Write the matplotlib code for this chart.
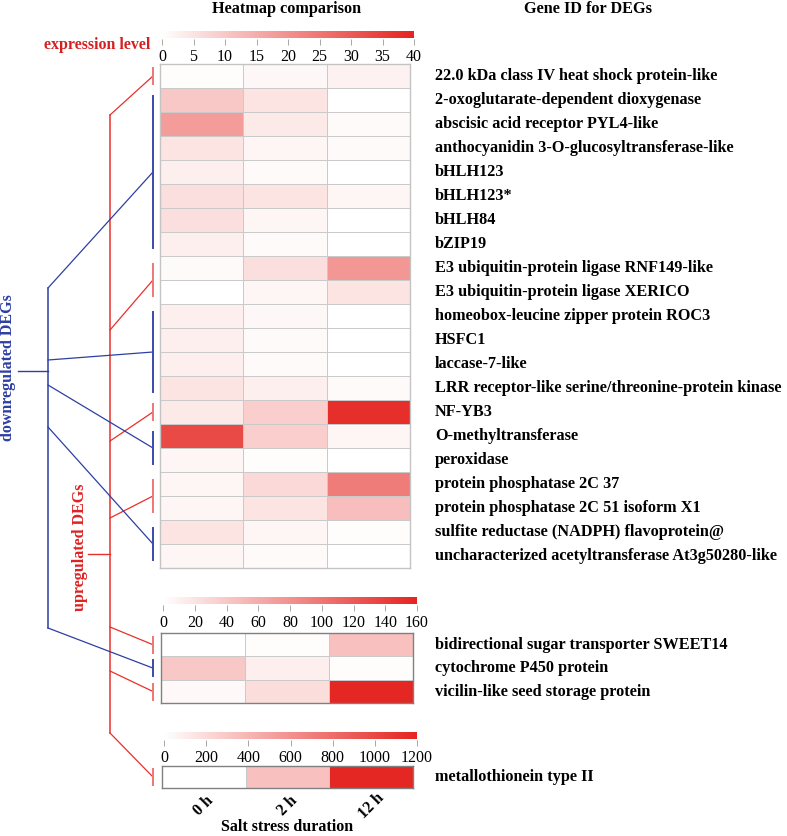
import numpy as np
import matplotlib
matplotlib.use("Agg")
import matplotlib.pyplot as plt
from matplotlib.colors import LinearSegmentedColormap

W, H = 787, 836

# ---- data ----
times = ["0 h", "2 h", "12 h"]

top_genes = [
    "22.0 kDa class IV heat shock protein-like",
    "2-oxoglutarate-dependent dioxygenase",
    "abscisic acid receptor PYL4-like",
    "anthocyanidin 3-O-glucosyltransferase-like",
    "bHLH123",
    "bHLH123*",
    "bHLH84",
    "bZIP19",
    "E3 ubiquitin-protein ligase RNF149-like",
    "E3 ubiquitin-protein ligase XERICO",
    "homeobox-leucine zipper protein ROC3",
    "HSFC1",
    "laccase-7-like",
    "LRR receptor-like serine/threonine-protein kinase",
    "NF-YB3",
    "O-methyltransferase",
    "peroxidase",
    "protein phosphatase 2C 37",
    "protein phosphatase 2C 51 isoform X1",
    "sulfite reductase (NADPH) flavoprotein@",
    "uncharacterized acetyltransferase At3g50280-like",
]
top_0h = [0.5, 10, 18, 5, 3, 6, 6, 3, 1, 0, 3, 3, 3, 5, 4, 33, 2, 2, 2, 5, 2]
top_2h = [1.5, 5, 4, 2, 1, 5, 2, 1, 6, 2, 1.5, 1, 1, 3, 9, 9, 0.5, 7, 5, 2, 1]
top_12h = [2.5, 0, 1, 1, 0, 2, 0, 0, 19, 5, 0, 0, 0, 1, 38, 2, 0, 24, 12, 0.5, 0]
top_ticks = [0, 5, 10, 15, 20, 25, 30, 35, 40]

mid_genes = [
    "bidirectional sugar transporter SWEET14",
    "cytochrome P450 protein",
    "vicilin-like seed storage protein",
]
mid_0h = [0, 40, 5]
mid_2h = [2, 12, 25]
mid_12h = [45, 3, 158]
mid_ticks = [0, 20, 40, 60, 80, 100, 120, 140, 160]

bot_genes = ["metallothionein type II"]
bot_0h = [0]
bot_2h = [340]
bot_12h = [1180]
bot_ticks = [0, 200, 400, 600, 800, 1000, 1200]

# tree groups: (y on trunk, panel, first row, last row)
down_groups = [(288, "top", 1, 7), (360, "top", 10, 13), (385, "top", 15, 16),
               (427, "top", 19, 20), (628, "mid", 1, 1)]
up_groups = [(115, "top", 0, 0), (330, "top", 8, 9), (441, "top", 14, 14),
             (518, "top", 17, 18), (627, "mid", 0, 0), (671, "mid", 2, 2),
             (733, "bot", 0, 0)]

RED = "#E52420"
BLUE = "#2E3FA3"
cmap = LinearSegmentedColormap.from_list("wr", ["#FFFFFF", RED])
serif = ["Liberation Serif", "DejaVu Serif"]
plt.rcParams["font.family"] = serif

fig = plt.figure(figsize=(W / 100, H / 100), dpi=100)


def box(x0, y0, x1, y1):
    return [x0 / W, 1 - y1 / H, (x1 - x0) / W, (y1 - y0) / H]


# overlay in pixel coordinates
ov = fig.add_axes([0, 0, 1, 1])
ov.set_xlim(0, W)
ov.set_ylim(H, 0)
ov.axis("off")

# panel geometry (pixels): x0, x1, y0, row height
panels = {
    "top": (160, 410, 64, 24.0),
    "mid": (161, 413, 633, 23.4),
    "bot": (162, 413, 766, 22.0),
}


def heat(name, cols, vmax, ticks, bar_y, edge):
    x0, x1, y0, rh = panels[name]
    vals = np.array(cols).T
    n = vals.shape[0]
    ax = fig.add_axes(box(x0, y0, x1, y0 + n * rh))
    ax.pcolormesh(vals, cmap=cmap, vmin=0, vmax=vmax,
                  edgecolors="#CACACA", linewidth=0.6)
    ax.set_ylim(n, 0)
    ax.set_xticks([])
    ax.set_yticks([])
    for s in ax.spines.values():
        s.set_color(edge)
        s.set_linewidth(1.0)
    # colour bar
    cb = fig.add_axes(box(x0 + 2, bar_y, x1 + 4, bar_y + 14))
    grad = np.linspace(0, vmax, 256).reshape(1, -1)
    cb.imshow(grad, cmap=cmap, vmin=0, vmax=vmax, aspect="auto",
              extent=(0, vmax, 0.0, 0.6), origin="lower")
    cb.set_xlim(0, vmax)
    cb.set_ylim(-0.6, 0.6)
    for s in cb.spines.values():
        s.set_visible(False)
    cb.set_yticks([])
    cb.set_xticks(ticks)
    cb.set_xticklabels([str(t) for t in ticks])
    cb.tick_params(axis="x", direction="in", length=4, width=0.6,
                   color="#999999", labelsize=11.5, pad=3)
    return ax


genes_all = {"top": top_genes, "mid": mid_genes, "bot": bot_genes}
heat("top", [top_0h, top_2h, top_12h], 40, top_ticks, 31, "#C4C4C4")
heat("mid", [mid_0h, mid_2h, mid_12h], 160, mid_ticks, 597, "#808080")
heat("bot", [bot_0h, bot_2h, bot_12h], 1200, bot_ticks, 732, "#808080")

# gene labels
for name, genes in genes_all.items():
    x0, x1, y0, rh = panels[name]
    for i, g in enumerate(genes):
        ov.text(435, y0 + (i + 0.5) * rh, g, fontsize=11.7, fontweight="bold",
                ha="left", va="center")

# x tick labels under bottom panel
bx0, bx1, by0, brh = panels["bot"]
cw = (bx1 - bx0) / 3
for i, t in enumerate(times):
    ov.text(bx0 + (i + 0.5) * cw, 806, t, rotation=45, fontsize=11.5,
            fontweight="bold", ha="center", va="center")
ov.text((bx0 + bx1) / 2, 827, "Salt stress duration", fontsize=11.5,
        fontweight="bold", ha="center", va="center")

# titles
ov.text(287, 9, "Heatmap comparison", fontsize=11.7, fontweight="bold",
        ha="center", va="center")
ov.text(588, 9, "Gene ID for DEGs", fontsize=11.7, fontweight="bold",
        ha="center", va="center")
ov.text(150, 45, "expression level", fontsize=11.5, fontweight="bold",
        color="#D42020", ha="right", va="center")


# tree
def group_span(name, r0, r1):
    x0, x1, y0, rh = panels[name]
    return y0 + r0 * rh, y0 + (r1 + 1) * rh


BX = 153


def draw_tree(groups, trunk_x, color, bar_color):
    ys = [g[0] for g in groups]
    ov.plot([trunk_x, trunk_x], [min(ys), max(ys)], color=color, lw=1.1)
    for ty, name, r0, r1 in groups:
        top, bot = group_span(name, r0, r1)
        mid = (top + bot) / 2
        if r0 == r1:
            b0, b1 = mid - 8, mid + 8
        else:
            b0, b1 = top + 8, bot - 8
        ov.plot([trunk_x, BX], [ty, mid], color=color, lw=0.9)
        ov.plot([BX, BX], [b0, b1], color=bar_color, lw=1.4)


draw_tree(up_groups, 110, "#E8302A", "#EE7676")
draw_tree(down_groups, 48, BLUE, "#3A4BA8")

ov.plot([18, 48], [371, 371], color=BLUE, lw=1.0)
ov.plot([88, 110], [554, 554], color="#E8302A", lw=1.0)

ov.text(8, 368, "downregulated DEGs", rotation=90, fontsize=11.5,
        fontweight="bold", color=BLUE, ha="center", va="center")
ov.text(80, 547, "upregulated DEGs", rotation=90, fontsize=11.5,
        fontweight="bold", color="#E02222", ha="center", va="center")

fig.savefig("out.png", dpi=100)
